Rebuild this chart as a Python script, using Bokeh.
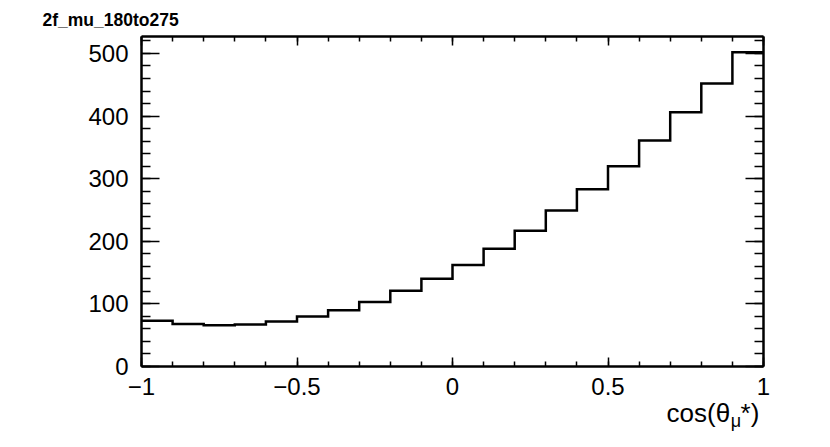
import numpy as np
from bokeh.plotting import figure
from bokeh.models import LinearAxis, FixedTicker, Range1d
from bokeh.embed import file_html
from bokeh.resources import INLINE

# ---- data ----
bin_edges = [-1.0, -0.9, -0.8, -0.7, -0.6, -0.5, -0.4, -0.3, -0.2, -0.1, 0.0,
             0.1, 0.2, 0.3, 0.4, 0.5, 0.6, 0.7, 0.8, 0.9, 1.0]
counts = [73, 68, 66, 67, 72, 80, 90, 103, 121, 140, 162, 188, 217, 249,
          283, 320, 361, 406, 452, 502]
title_text = "2f_mu_180to275"
# axis labels are centred on the frame's right end, so pad with no-break spaces
x_title_main = "cos(\u03b8\u2009\u2009*)" + "\u00a0" * 14
x_title_sub = "\u03bc" + "\u00a0" * 11
x_major = [-1.0, -0.5, 0.0, 0.5, 1.0]
x_labels = {-1.0: "\u22121", -0.5: "\u22120.5", 0.0: "0", 0.5: "0.5", 1.0: "1"}
y_major = [0, 100, 200, 300, 400, 500]

y_max = 1.05 * max(counts)
x_min, x_max = bin_edges[0], bin_edges[-1]

# layout (frame: left 141, right 763, top 36, bottom 366)
W, H = 822, 439
BL, BR, BT, BB = 141, 59, 36, 73

FONT = "Liberation Sans"

p = figure(width=W, height=H, output_backend="svg", toolbar_location=None,
           x_range=Range1d(x_min, x_max), y_range=Range1d(0, y_max),
           min_border_left=BL, min_border_right=BR, min_border_top=BT,
           min_border_bottom=BB, x_axis_type=None, y_axis_type=None)
p.grid.visible = False
p.outline_line_color = None
p.background_fill_color = "white"
p.border_fill_color = "white"

p.title.text = title_text
p.title.align = "left"
p.title.offset = -99
p.title.text_font = FONT
p.title.text_font_size = "17.5px"
p.title.text_font_style = "bold"
p.title.text_color = "black"
p.title.standoff = 14

x_minor = [round(-1 + 0.1 * i, 2) for i in range(21)]
y_minor = list(range(0, 540, 20))

def style(ax, tick_in, minor_in, show_labels):
    ax.axis_line_width = 2.5
    ax.axis_line_color = "black"
    ax.major_tick_in = tick_in
    ax.major_tick_out = 0
    ax.minor_tick_in = minor_in
    ax.minor_tick_out = 0
    ax.major_tick_line_width = 1.5
    ax.minor_tick_line_width = 1.5
    ax.major_tick_line_color = "black"
    ax.minor_tick_line_color = "black"
    ax.major_label_text_font = FONT
    ax.major_label_text_font_size = "24px"
    ax.major_label_text_color = "black"
    if not show_labels:
        ax.major_label_text_alpha = 0
        ax.major_label_text_font_size = "1px"
        ax.major_label_standoff = 0

xb = LinearAxis(ticker=FixedTicker(ticks=x_major, minor_ticks=x_minor),
                major_label_overrides=x_labels)
style(xb, 9, 5, True)
xb.major_label_standoff = 11
xb.axis_label = x_title_main
xb.axis_label_align = "end"
xb.axis_label_standoff = 0
xb.axis_label_text_font = FONT
xb.axis_label_text_font_size = "26px"
xb.axis_label_text_font_style = "normal"
xb.axis_label_text_color = "black"
p.add_layout(xb, "below")

# second (tickless) bottom axis carrying only the subscript of the x title
xs_ax = LinearAxis(ticker=FixedTicker(ticks=[], minor_ticks=[]))
xs_ax.axis_line_color = None
xs_ax.major_tick_line_color = None
xs_ax.minor_tick_line_color = None
xs_ax.major_label_standoff = 0
xs_ax.axis_label = x_title_sub
xs_ax.axis_label_align = "end"
xs_ax.axis_label_standoff = -20
xs_ax.axis_label_text_font = FONT
xs_ax.axis_label_text_font_size = "18px"
xs_ax.axis_label_text_font_style = "normal"
xs_ax.axis_label_text_color = "black"
p.add_layout(xs_ax, "below")

xt = LinearAxis(ticker=FixedTicker(ticks=x_major, minor_ticks=x_minor))
style(xt, 9, 5, False)
p.add_layout(xt, "above")

yl = LinearAxis(ticker=FixedTicker(ticks=y_major, minor_ticks=y_minor))
style(yl, 18, 9, True)
yl.major_label_standoff = 13
p.add_layout(yl, "left")

yr = LinearAxis(ticker=FixedTicker(ticks=y_major, minor_ticks=y_minor))
style(yr, 18, 9, False)
p.add_layout(yr, "right")

# histogram outline
xs, ys = [], []
for i, c in enumerate(counts):
    xs += [bin_edges[i], bin_edges[i + 1]]
    ys += [c, c]
p.line(xs, ys, line_color="black", line_width=2.5, line_join="miter")

open("out.html", "w").write(file_html(p, INLINE))
